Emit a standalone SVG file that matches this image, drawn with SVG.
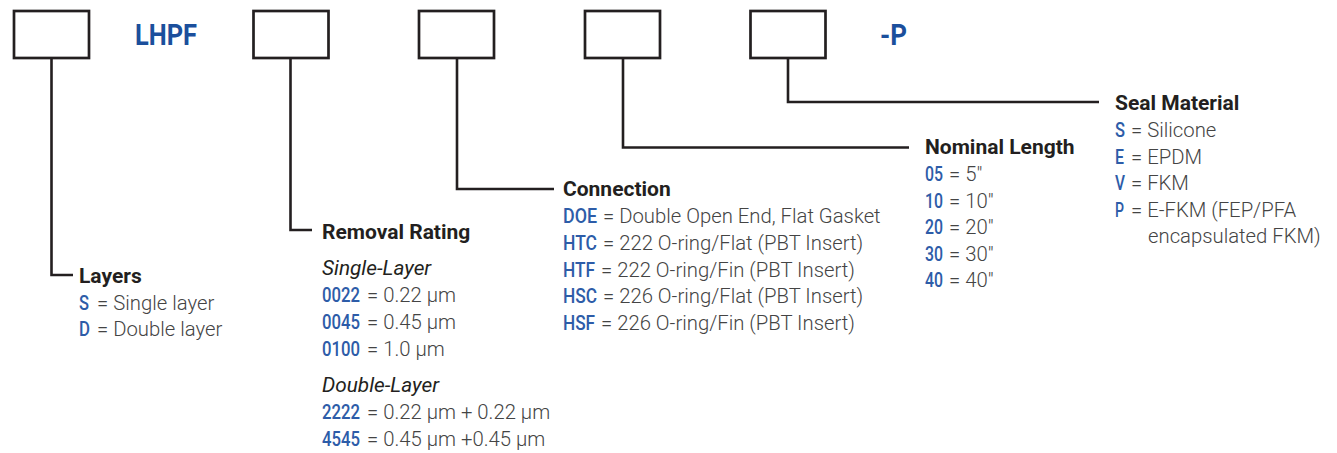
<svg xmlns="http://www.w3.org/2000/svg" width="1337" height="453" viewBox="0 0 1337 453">
<style>
.box{fill:#fff;stroke:#231f20;stroke-width:2.7}
.ln{fill:none;stroke:#231f20;stroke-width:2.6}
.pre{font-family:Roboto,"Liberation Sans",sans-serif;font-weight:700;fill:#1b4f9c;font-size:30px}
.h{font-family:Roboto,"Liberation Sans",sans-serif;font-weight:700;fill:#231f20;font-size:21px}
.b{font-family:Roboto,"Liberation Sans",sans-serif;font-weight:300;fill:#444;font-size:20.3px}
.c{font-family:Roboto,"Liberation Sans",sans-serif;font-weight:500;fill:#2d5ca8;font-size:20.5px}
.i{font-family:Roboto,"Liberation Sans",sans-serif;font-style:italic;font-weight:400;fill:#231f20;font-size:20.8px}
</style>
<rect width="1337" height="453" fill="#fff"/>
<g id="connectors">
<path class="ln" d="M51.5 58V275H73"/>
<path class="ln" d="M290.5 58V230H312"/>
<path class="ln" d="M457 58V189H554"/>
<path class="ln" d="M623 58V147.5H909"/>
<path class="ln" d="M788 58V102H1099"/>
</g>
<g id="box-layers"><rect class="box" x="14" y="11" width="75" height="47"/></g>
<g id="prefix-lhpf"><text class="pre" x="135" y="45" textLength="62" lengthAdjust="spacingAndGlyphs">LHPF</text></g>
<g id="box-rating"><rect class="box" x="253.5" y="11" width="75" height="47"/></g>
<g id="box-connection"><rect class="box" x="419" y="11" width="75" height="47"/></g>
<g id="box-length"><rect class="box" x="585" y="11" width="75" height="47"/></g>
<g id="box-seal"><rect class="box" x="750.5" y="11" width="75" height="47"/></g>
<g id="suffix-p"><text class="pre" x="880" y="45" textLength="27" lengthAdjust="spacingAndGlyphs">-P</text></g>

<g id="legend-layers">
<text class="h" x="79" y="283">Layers</text>
<text class="c" x="79" y="310" textLength="10" lengthAdjust="spacingAndGlyphs">S</text><text class="b" x="97" y="310">= Single layer</text>
<text class="c" x="79" y="336" textLength="11" lengthAdjust="spacingAndGlyphs">D</text><text class="b" x="97" y="336">= Double layer</text>
</g>

<g id="legend-rating">
<text class="h" x="322" y="239">Removal Rating</text>
<text class="i" x="322" y="275">Single-Layer</text>
<text class="c" x="322" y="302" textLength="38" lengthAdjust="spacingAndGlyphs">0022</text><text class="b" x="367" y="302">= 0.22 µm</text>
<text class="c" x="322" y="329" textLength="38" lengthAdjust="spacingAndGlyphs">0045</text><text class="b" x="367" y="329">= 0.45 µm</text>
<text class="c" x="322" y="356" textLength="38" lengthAdjust="spacingAndGlyphs">0100</text><text class="b" x="367" y="356">= 1.0 µm</text>
<text class="i" x="322" y="392">Double-Layer</text>
<text class="c" x="322" y="419" textLength="38" lengthAdjust="spacingAndGlyphs">2222</text><text class="b" x="367" y="419">= 0.22 µm + 0.22 µm</text>
<text class="c" x="322" y="446" textLength="38" lengthAdjust="spacingAndGlyphs">4545</text><text class="b" x="367" y="446">= 0.45 µm +0.45 µm</text>
</g>

<g id="legend-connection">
<text class="h" x="563" y="196">Connection</text>
<text class="c" x="563" y="223" textLength="34" lengthAdjust="spacingAndGlyphs">DOE</text><text class="b" x="603" y="223">= Double Open End, Flat Gasket</text>
<text class="c" x="563" y="250" textLength="34" lengthAdjust="spacingAndGlyphs">HTC</text><text class="b" x="603" y="250">= 222 O-ring/Flat (PBT Insert)</text>
<text class="c" x="563" y="277" textLength="32" lengthAdjust="spacingAndGlyphs">HTF</text><text class="b" x="601" y="277">= 222 O-ring/Fin (PBT Insert)</text>
<text class="c" x="563" y="303" textLength="34" lengthAdjust="spacingAndGlyphs">HSC</text><text class="b" x="603" y="303">= 226 O-ring/Flat (PBT Insert)</text>
<text class="c" x="563" y="330" textLength="32" lengthAdjust="spacingAndGlyphs">HSF</text><text class="b" x="601" y="330">= 226 O-ring/Fin (PBT Insert)</text>
</g>

<g id="legend-length">
<text class="h" x="925" y="154">Nominal Length</text>
<text class="c" x="925" y="181" textLength="18" lengthAdjust="spacingAndGlyphs">05</text><text class="b" x="949" y="181">= 5"</text>
<text class="c" x="925" y="207.5" textLength="18" lengthAdjust="spacingAndGlyphs">10</text><text class="b" x="949" y="207.5">= 10"</text>
<text class="c" x="925" y="234" textLength="18" lengthAdjust="spacingAndGlyphs">20</text><text class="b" x="949" y="234">= 20"</text>
<text class="c" x="925" y="260.5" textLength="18" lengthAdjust="spacingAndGlyphs">30</text><text class="b" x="949" y="260.5">= 30"</text>
<text class="c" x="925" y="287" textLength="18" lengthAdjust="spacingAndGlyphs">40</text><text class="b" x="949" y="287">= 40"</text>
</g>

<g id="legend-seal">
<text class="h" x="1115" y="110">Seal Material</text>
<text class="c" x="1115" y="137" textLength="10" lengthAdjust="spacingAndGlyphs">S</text><text class="b" x="1131" y="137">= Silicone</text>
<text class="c" x="1115" y="164" textLength="9" lengthAdjust="spacingAndGlyphs">E</text><text class="b" x="1131" y="164">= EPDM</text>
<text class="c" x="1115" y="190" textLength="10" lengthAdjust="spacingAndGlyphs">V</text><text class="b" x="1131" y="190">= FKM</text>
<text class="c" x="1115" y="217" textLength="9" lengthAdjust="spacingAndGlyphs">P</text><text class="b" x="1131" y="217">= E-FKM (FEP/PFA</text>
<text class="b" x="1148" y="243">encapsulated FKM)</text>
</g>
</svg>
